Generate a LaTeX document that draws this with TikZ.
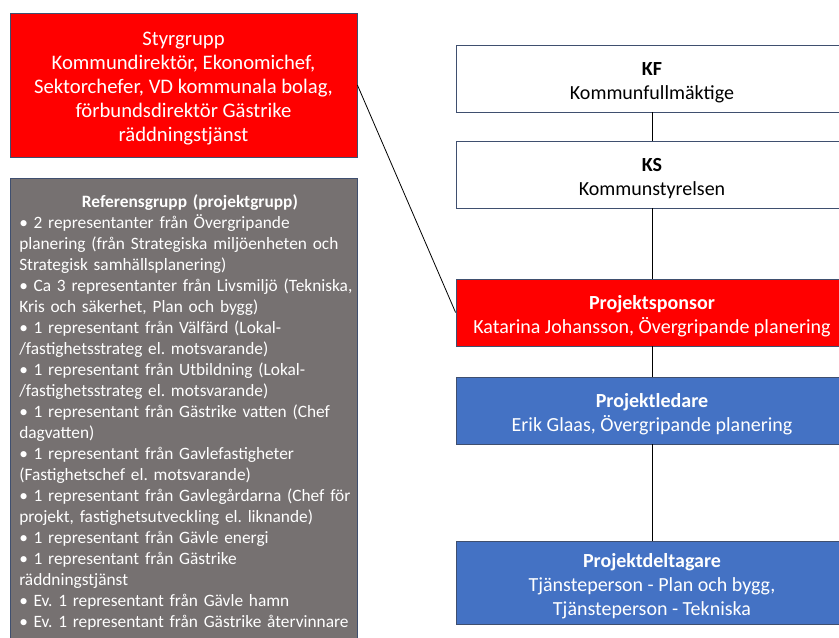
\documentclass[tikz,border=0pt]{standalone}
\usepackage{fontspec}
\setmainfont{Carlito}
\frenchspacing
\definecolor{boxline}{HTML}{3F4F6F}
\definecolor{sponsorred}{HTML}{FF0000}
\definecolor{leaderblue}{HTML}{4472C4}
\definecolor{refgray}{HTML}{767171}
\newcommand{\lowtop}{\rule{0pt}{15.5pt}}
\begin{document}
\begin{tikzpicture}[x=0.75pt,y=-0.75pt,
    box/.style={draw=boxline, line width=0.6pt, align=center, inner sep=0pt},
    orgbox/.style={box, minimum width=294pt, minimum height=50.25pt,
      font=\fontsize{15}{18}\selectfont},
    whitebox/.style={orgbox, fill=white, text=black},
    redbox/.style={orgbox, fill=sponsorred, text=white},
    bluebox/.style={orgbox, fill=leaderblue, text=white}]
  \useasboundingbox (0,0) rectangle (839,637);
  \clip (0,0) rectangle (839,637);
  % left column
  \node[box, fill=sponsorred, text=white, minimum width=260.25pt, minimum height=108pt,
    font=\fontsize{15.5}{18}\selectfont] (styr) at (183.5,85)
    {\lowtop Styrgrupp\\Kommundirektör, Ekonomichef,\\Sektorchefer, VD kommunala bolag,\\förbundsdirektör Gästrike\\räddningstjänst};
  \node[draw=boxline, line width=0.6pt, fill=refgray, minimum width=260.25pt, minimum height=380pt,
    anchor=north west] (ref) at (10,178) {};
  \node[anchor=north west, text=white, text width=256pt, inner sep=0pt,
    font=\fontsize{13}{15.75}\selectfont] (reftext) at (19,194.5)
    {{\centering\bfseries Referensgrupp (projektgrupp)\par}\raggedright
    • 2 representanter från Övergripande\\
    planering (från Strategiska miljöenheten och\\
    Strategisk samhällsplanering)\\
    • Ca 3 representanter från Livsmiljö (Tekniska,\\
    Kris och säkerhet, Plan och bygg)\\
    • 1 representant från Välfärd (Lokal-\\
    /fastighetsstrateg el. motsvarande)\\
    • 1 representant från Utbildning (Lokal-\\
    /fastighetsstrateg el. motsvarande)\\
    • 1 representant från Gästrike vatten (Chef\\
    dagvatten)\\
    • 1 representant från Gavlefastigheter\\
    (Fastighetschef el. motsvarande)\\
    • 1 representant från Gavlegårdarna (Chef för\\
    projekt, fastighetsutveckling el. liknande)\\
    • 1 representant från Gävle energi\\
    • 1 representant från Gästrike\\
    räddningstjänst\\
    • Ev. 1 representant från Gävle hamn\\
    • Ev. 1 representant från Gästrike återvinnare};
  % right column
  \node[whitebox] (kf) at (652,78.5) {\lowtop\textbf{KF}\\Kommunfullmäktige};
  \node[whitebox] (ks) at (652,174.5) {\lowtop\textbf{KS}\\Kommunstyrelsen};
  \node[redbox] (spons) at (652,312.5) {\lowtop\textbf{Projektsponsor}\\Katarina Johansson, Övergripande planering};
  \node[bluebox] (led) at (652,410.5) {\lowtop\textbf{Projektledare}\\Erik Glaas, Övergripande planering};
  \node[bluebox, minimum height=62.25pt] (delt) at (652,582.5)
    {\lowtop\textbf{Projektdeltagare}\\Tjänsteperson - Plan och bygg,\\Tjänsteperson - Tekniska};
  \begin{scope}[line width=0.6pt]
    \draw (kf) to (ks);
    \draw (ks) to (spons);
    \draw (spons) to (led);
    \draw (led) to (delt);
    \draw (styr.east) to (spons.west);
  \end{scope}
\end{tikzpicture}
\end{document}
